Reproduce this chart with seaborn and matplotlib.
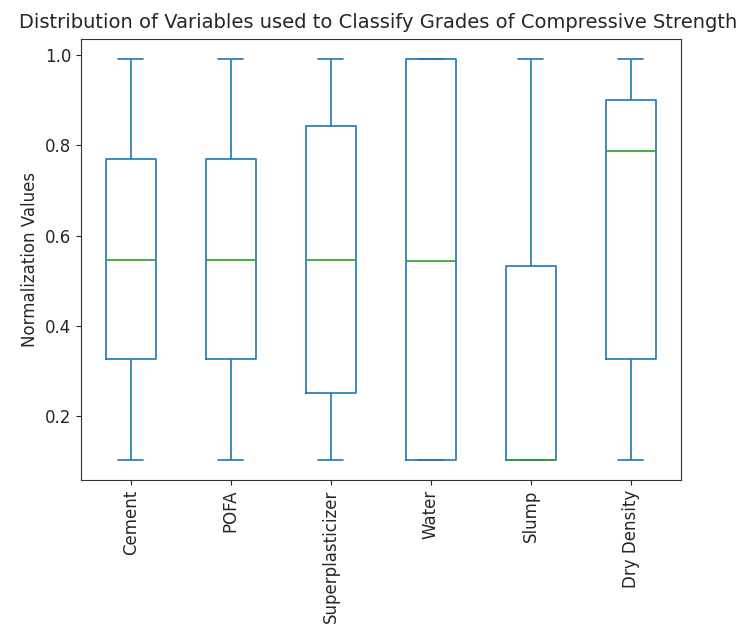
#Distribution of normalized variables used to classify compressive strength grades

#import applicable modules
import pandas as pd
import matplotlib
matplotlib.use('Agg')
import matplotlib.pyplot as plt
import seaborn as sns

#five-number summary of each variable (min, Q1, median, Q3, max)
variables = ['Cement', 'POFA', 'Superplasticizer', 'Water', 'Slump', 'Dry Density']
cement = [0.103, 0.326, 0.547, 0.769, 0.992]
pofa = [0.103, 0.326, 0.547, 0.769, 0.992]
superplasticizer = [0.103, 0.251, 0.547, 0.844, 0.992]
water = [0.103, 0.103, 0.544, 0.992, 0.992]
slump = [0.103, 0.103, 0.103, 0.532, 0.992]
dry_density = [0.103, 0.326, 0.788, 0.901, 0.992]

#build a long-form df so seaborn can draw one box per variable
values = [cement, pofa, superplasticizer, water, slump, dry_density]
df = pd.DataFrame({'Variable': [v for v, vals in zip(variables, values) for _ in vals],
                   'Value': [x for vals in values for x in vals]})

sns.set_style('ticks')
plt.rcParams['font.family'] = ['DejaVu Sans']

fig = plt.figure(figsize=(7.48, 6.35), dpi=100)
ax = fig.add_axes([0.108, 0.244, 0.802, 0.695])

sns.boxplot(data=df, x='Variable', y='Value', order=variables, ax=ax,
            fill=False, color='#1f77b4', width=0.5, whis=(0, 100),
            linewidth=1.2, medianprops={'color': '#2ca02c'})

ax.set_xlim(-0.5, 5.5)
ax.set_yticks([0.2, 0.4, 0.6, 0.8, 1.0])
ax.tick_params(axis='x', labelrotation=90, labelsize=12)
ax.tick_params(axis='y', labelsize=12)
ax.set_xlabel('')
ax.set_ylabel('Normalization Values', fontsize=12)
ax.set_title('Distribution of Variables used to Classify Grades of Compressive Strength',
             fontsize=14, pad=8, x=0.495)
for s in ax.spines.values():
    s.set_visible(True)
    s.set_color('#333333')

plt.savefig('out.png', dpi=100)
